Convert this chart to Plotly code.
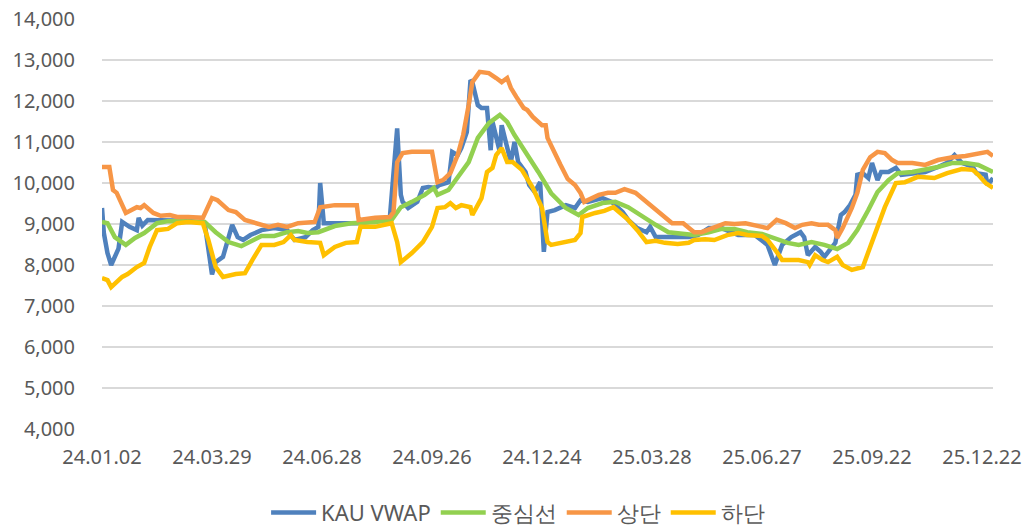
import plotly.graph_objects as go

# Trading-day index (0 = 24.01.02) for tick labels
tick_labels = ["24.01.02", "24.03.29", "24.06.28", "24.09.26", "24.12.24",
               "25.03.28", "25.06.27", "25.09.22", "25.12.22"]
tick_step = 60
n_days = 487

vwap_x = [0, 1, 3, 5, 9, 11, 15, 19, 20, 22, 25, 28, 37, 47, 56, 60, 62, 66, 71, 74, 77, 81, 87, 94,
          101, 105, 111, 115, 118, 119, 121, 127, 141, 149, 157, 161, 163, 164, 167, 172, 175, 178,
          182, 184, 189, 191, 194, 196, 199, 201, 202, 205, 207, 210, 212, 213, 215, 217, 218, 221,
          223, 225, 227, 231, 233, 236, 239, 241, 243, 247, 253, 258, 261, 265, 273, 278, 284, 287,
          292, 297, 299, 302, 307, 313, 320, 325, 331, 338, 347, 356, 363, 367, 371, 376, 378, 381,
          383, 385, 389, 392, 394, 397, 400, 403, 405, 408, 411, 412, 415, 418, 420, 423, 425, 429,
          433, 436, 442, 449, 456, 461, 465, 469, 475, 477, 482, 483, 486]
vwap_y = [9390, 8780, 8290, 8000, 8400, 9050, 8930, 8850, 9150, 8960, 9100, 9100, 9080, 9080, 9020,
          7770, 8070, 8200, 8980, 8680, 8610, 8730, 8850, 8900, 8850, 8610, 8680, 8850, 8930, 10000,
          9020, 9020, 9020, 9080, 9150, 11330, 9710, 9540, 9390, 9540, 9880, 9900, 9880, 9950, 10020,
          10760, 10680, 10850, 11240, 12510, 12460, 11900, 11830, 11830, 10800, 11490, 11170, 10760,
          11410, 10850, 10510, 11000, 10510, 10270, 9950, 9780, 10020, 8320, 9290, 9340, 9460, 9390,
          9580, 9540, 9630, 9540, 9290, 9100, 8900, 8800, 8930, 8680, 8680, 8660, 8680, 8730, 8900,
          8900, 8730, 8730, 8490, 8000, 8490, 8680, 8730, 8800, 8680, 8240, 8440, 8320, 8200, 8370,
          8540, 9220, 9290, 9460, 9710, 10200, 10240, 10120, 10490, 10070, 10270, 10270, 10370, 10200,
          10240, 10270, 10390, 10490, 10680, 10490, 10390, 10240, 10200, 9950, 10120]

mid_x = [0, 3, 7, 13, 18, 23, 30, 36, 44, 51, 56, 62, 69, 76, 82, 87, 94, 101, 107, 112, 118, 123,
         127, 136, 149, 158, 163, 169, 176, 181, 183, 189, 194, 200, 205, 211, 217, 221, 225, 231,
         238, 245, 253, 260, 265, 273, 280, 287, 295, 302, 309, 316, 323, 331, 338, 345, 352, 360,
         367, 374, 380, 387, 394, 401, 407, 412, 418, 423, 429, 434, 442, 449, 456, 464, 471, 478, 486]
mid_y = [9050, 9020, 8680, 8490, 8660, 8780, 9020, 9070, 9070, 9070, 9050, 8800, 8560, 8460, 8610,
         8710, 8710, 8800, 8830, 8780, 8800, 8900, 8950, 9020, 9050, 9100, 9410, 9540, 9710, 9880,
         9710, 9830, 10120, 10510, 11100, 11460, 11660, 11490, 11170, 10760, 10270, 9750, 9390, 9220,
         9390, 9510, 9540, 9410, 9170, 8980, 8800, 8760, 8730, 8800, 8880, 8880, 8800, 8760, 8660,
         8540, 8490, 8560, 8490, 8390, 8540, 8850, 9340, 9780, 10070, 10240, 10270, 10320, 10390,
         10490, 10490, 10440, 10270]

upper_x = [0, 4, 6, 8, 13, 16, 19, 21, 23, 28, 32, 37, 41, 47, 55, 60, 63, 69, 73, 78, 85, 91, 96,
           101, 107, 116, 119, 127, 139, 140, 149, 157, 159, 161, 164, 169, 180, 183, 186, 190, 194,
           197, 200, 202, 206, 211, 215, 218, 221, 223, 226, 230, 232, 235, 240, 242, 243, 246, 250,
           254, 258, 261, 263, 271, 276, 280, 285, 291, 296, 302, 307, 311, 317, 323, 327, 333, 340,
           345, 351, 360, 363, 368, 373, 378, 382, 387, 391, 396, 400, 401, 404, 409, 412, 415, 419,
           423, 427, 431, 434, 442, 449, 456, 464, 471, 478, 483, 486]
upper_y = [10390, 10390, 9830, 9760, 9270, 9340, 9410, 9390, 9460, 9270, 9200, 9220, 9170, 9170, 9150,
           9630, 9580, 9340, 9290, 9100, 9020, 8930, 8980, 8930, 9020, 9050, 9410, 9460, 9460, 9100,
           9150, 9170, 9290, 10510, 10730, 10760, 10760, 10020, 10070, 10240, 10680, 11170, 11900,
           12460, 12710, 12680, 12560, 12460, 12560, 12320, 12100, 11830, 11780, 11610, 11410, 11410,
           11100, 10800, 10450, 10100, 9950, 9760, 9540, 9710, 9760, 9760, 9850, 9760, 9580, 9340,
           9150, 9020, 9020, 8800, 8800, 8900, 9020, 9000, 9020, 8930, 8900, 9100, 9020, 8900, 8980,
           9020, 8980, 8980, 8850, 8660, 8900, 9390, 9760, 10320, 10630, 10760, 10730, 10560, 10490,
           10490, 10440, 10560, 10630, 10660, 10710, 10760, 10660]

lower_x = [0, 3, 5, 8, 11, 14, 19, 23, 26, 30, 36, 41, 47, 55, 58, 62, 66, 73, 78, 82, 87, 94, 99,
           103, 105, 112, 119, 121, 127, 133, 139, 141, 149, 158, 161, 163, 169, 175, 180, 183, 187,
           190, 193, 196, 201, 202, 207, 210, 213, 215, 218, 221, 224, 229, 235, 240, 243, 245, 251,
           258, 261, 262, 269, 274, 279, 283, 287, 292, 297, 302, 307, 314, 320, 323, 329, 334, 341,
           347, 352, 360, 363, 368, 371, 380, 385, 386, 389, 393, 396, 401, 404, 409, 415, 419, 423,
           427, 433, 438, 445, 454, 461, 469, 475, 478, 482, 486]
lower_y = [7680, 7630, 7460, 7590, 7710, 7780, 7950, 8050, 8440, 8850, 8880, 9020, 9050, 9020, 8610,
           7950, 7710, 7780, 7800, 8120, 8490, 8490, 8560, 8730, 8610, 8560, 8540, 8240, 8440, 8540,
           8560, 8930, 8930, 9020, 8560, 8070, 8290, 8560, 8930, 9390, 9410, 9510, 9390, 9460, 9410,
           9220, 9630, 10270, 10370, 10680, 10850, 10510, 10510, 10320, 9880, 9390, 8560, 8490, 8540,
           8610, 8780, 9170, 9270, 9320, 9410, 9270, 9100, 8850, 8560, 8590, 8540, 8510, 8540, 8610,
           8630, 8610, 8730, 8780, 8730, 8710, 8610, 8320, 8120, 8120, 8070, 8000, 8240, 8120, 8070,
           8200, 8000, 7880, 7950, 8440, 8930, 9410, 10000, 10020, 10150, 10120, 10240, 10340, 10320,
           10200, 10000, 9880]

series = [
    ("KAU VWAP", vwap_x, vwap_y, "#4F81BD"),
    ("중심선", mid_x, mid_y, "#92D050"),
    ("상단", upper_x, upper_y, "#F79646"),
    ("하단", lower_x, lower_y, "#FFC000"),
]

fig = go.Figure()
for name, xs, ys, color in series:
    fig.add_trace(go.Scatter(x=xs, y=ys, mode="lines", name=name,
                             line=dict(color=color, width=4.5)))

font_family = "Noto Sans, Open Sans, sans-serif"
fig.update_layout(
    width=1036, height=527,
    margin=dict(l=102, r=43, t=19, b=98, autoexpand=False),
    paper_bgcolor="white", plot_bgcolor="white",
    font=dict(family=font_family, size=20, color="#595959"),
    showlegend=True,
    legend=dict(orientation="h", x=0.467, xanchor="center",
                yref="container", y=0.027, yanchor="middle",
                font=dict(size=22, color="#595959"),
                itemwidth=45, traceorder="normal"),
)
fig.update_xaxes(
    range=[0, n_days - 1],
    tickmode="array",
    tickvals=[i * tick_step for i in range(len(tick_labels))],
    ticktext=tick_labels,
    tickangle=0,
    showgrid=False, zeroline=False, showline=False,
    ticks="", ticklabelstandoff=14,
    tickfont=dict(size=20, color="#595959"),
)
fig.update_yaxes(
    range=[4000, 14000], dtick=1000, tickformat=",d",
    showgrid=True, gridcolor="#D9D9D9", gridwidth=1.3,
    zeroline=False, showline=False, ticks="", ticklabelstandoff=26,
    tickfont=dict(size=20, color="#595959"),
)

fig.write_html("out.html",
               config={"displayModeBar": False, "staticPlot": True},
               post_script="document.body.style.margin='0';document.body.style.overflow='hidden';")
